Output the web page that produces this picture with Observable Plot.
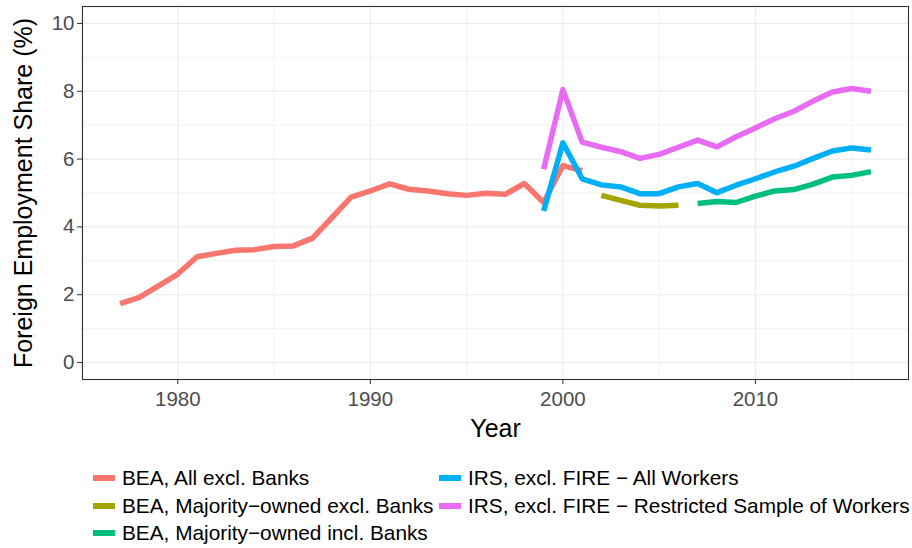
<!DOCTYPE html>
<html>
<head>
<meta charset="utf-8">
<script src="https://cdn.jsdelivr.net/npm/d3@7"></script>
<script src="https://cdn.jsdelivr.net/npm/@observablehq/plot@0.6"></script>
<style>
  html, body { margin: 0; padding: 0; background: #fff; }
  body { width: 912px; height: 548px; position: relative; font-family: "Liberation Sans", Arial, Helvetica, sans-serif; }
  #chart svg { display: block; }
  .legend { position: absolute; left: 0; top: 0; width: 912px; }
  .item { position: absolute; display: flex; align-items: center; height: 28px; font-size: 20.8px; color: #000; white-space: nowrap; }
  .sw { width: 22px; height: 6px; margin-right: 7px; }
</style>
</head>
<body>
<div id="chart"></div>
<div class="legend" id="legend"></div>
<script>
// Series names and colours
const seriesNames = [
  "BEA, All excl. Banks",
  "BEA, Majority−owned excl. Banks",
  "BEA, Majority−owned incl. Banks",
  "IRS, excl. FIRE − All Workers",
  "IRS, excl. FIRE − Restricted Sample of Workers"
];
const seriesColors = ["#F8766D", "#A3A500", "#00BF7D", "#00B0F6", "#E76BF3"];

// BEA, All excl. Banks
const beaAllYears = [1977,1978,1979,1980,1981,1982,1983,1984,1985,1986,1987,1988,1989,1990,1991,1992,1993,1994,1995,1996,1997,1998,1999,2000,2001];
const beaAllValues = [1.74,1.92,2.26,2.61,3.12,3.22,3.31,3.33,3.42,3.44,3.67,4.27,4.88,5.06,5.27,5.11,5.06,4.98,4.93,4.99,4.96,5.28,4.72,5.81,5.66];

// BEA, Majority-owned excl. Banks
const beaMajExclYears = [2002,2003,2004,2005,2006];
const beaMajExclValues = [4.93,4.78,4.64,4.62,4.64];

// BEA, Majority-owned incl. Banks
const beaMajInclYears = [2007,2008,2009,2010,2011,2012,2013,2014,2015,2016];
const beaMajInclValues = [4.69,4.75,4.72,4.91,5.06,5.10,5.26,5.47,5.52,5.63];

// IRS, excl. FIRE - All Workers
const irsAllYears = [1999,2000,2001,2002,2003,2004,2005,2006,2007,2008,2009,2010,2011,2012,2013,2014,2015,2016];
const irsAllValues = [4.47,6.48,5.42,5.24,5.18,4.98,4.98,5.18,5.28,5.01,5.23,5.42,5.62,5.79,6.02,6.24,6.33,6.27];

// IRS, excl. FIRE - Restricted Sample of Workers
const irsRestrYears = [1999,2000,2001,2002,2003,2004,2005,2006,2007,2008,2009,2010,2011,2012,2013,2014,2015,2016];
const irsRestrValues = [5.70,8.05,6.50,6.35,6.22,6.02,6.14,6.35,6.56,6.36,6.66,6.92,7.19,7.41,7.71,7.98,8.08,8.00];

// Axis ticks
const xTicks = [1980, 1990, 2000, 2010];
const xMinor = [1975, 1985, 1995, 2005, 2015];
const yTicks = [0, 2, 4, 6, 8, 10];
const yMinor = [1, 3, 5, 7, 9];

const yearsList = [beaAllYears, beaMajExclYears, beaMajInclYears, irsAllYears, irsRestrYears];
const valuesList = [beaAllValues, beaMajExclValues, beaMajInclValues, irsAllValues, irsRestrValues];
const data = [];
seriesNames.forEach((s, i) => {
  yearsList[i].forEach((yr, j) => data.push({series: s, year: yr, value: valuesList[i][j]}));
});

const gridColor = "#EBEBEB";
const chart = Plot.plot({
  width: 912,
  height: 448,
  marginLeft: 82,
  marginRight: 4,
  marginTop: 6,
  marginBottom: 69,
  style: { fontFamily: "'Liberation Sans', Arial, Helvetica, sans-serif", background: "#fff" },
  x: { domain: [1975.05, 2017.95] },
  y: { domain: [-0.5, 10.5] },
  color: { domain: seriesNames, range: seriesColors },
  marks: [
    Plot.gridY(yMinor, { stroke: gridColor, strokeOpacity: 1, strokeWidth: 0.6 }),
    Plot.gridX(xMinor, { stroke: gridColor, strokeOpacity: 1, strokeWidth: 0.6 }),
    Plot.gridY(yTicks, { stroke: gridColor, strokeOpacity: 1, strokeWidth: 1.1 }),
    Plot.gridX(xTicks, { stroke: gridColor, strokeOpacity: 1, strokeWidth: 1.1 }),
    Plot.line(data, { x: "year", y: "value", z: "series", stroke: "series", strokeWidth: 5.5, strokeLinecap: "butt", strokeLinejoin: "round" }),
    Plot.frame({ stroke: "#333333", strokeWidth: 1.1 }),
    Plot.axisX(xTicks, { tickSize: 5, tickPadding: 7, fontSize: 20.5, tickFormat: "d", fill: "#4D4D4D", stroke: "#333333", label: null }),
    Plot.axisY(yTicks, { tickSize: 5, tickPadding: 3, fontSize: 20.5, fill: "#4D4D4D", stroke: "#333333", label: null }),
    Plot.text(["Year"], { frameAnchor: "bottom", dy: 49, fontSize: 25, fill: "#000", textAnchor: "middle", lineAnchor: "middle" }),
    Plot.text(["Foreign Employment Share (%)"], { frameAnchor: "left", dx: -59, rotate: -90, fontSize: 25, fill: "#000", textAnchor: "middle", lineAnchor: "middle" })
  ]
});
document.getElementById("chart").appendChild(chart);

// Legend (column-major, 3 rows x 2 columns)
const legendCols = [93, 439];
const legendRowCenters = [478, 505.5, 533];
const legend = document.getElementById("legend");
seriesNames.forEach((s, i) => {
  const col = Math.floor(i / 3), row = i % 3;
  const item = document.createElement("div");
  item.className = "item";
  item.style.left = legendCols[col] + "px";
  item.style.top = (legendRowCenters[row] - 14) + "px";
  const sw = document.createElement("div");
  sw.className = "sw";
  sw.style.background = seriesColors[i];
  const label = document.createElement("span");
  label.textContent = s;
  item.appendChild(sw);
  item.appendChild(label);
  legend.appendChild(item);
});
</script>
</body>
</html>
